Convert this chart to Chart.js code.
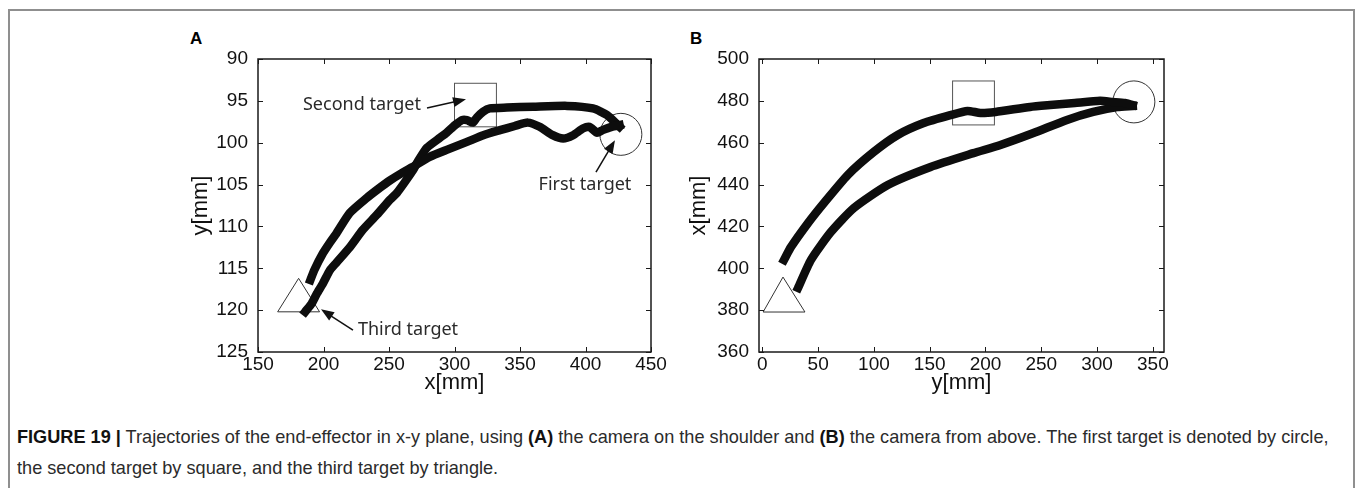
<!DOCTYPE html>
<html>
<head>
<meta charset="utf-8">
<script src="https://cdn.jsdelivr.net/npm/chart.js@4.4.0/dist/chart.umd.min.js"></script>
<style>
  html, body { margin: 0; padding: 0; background: #fff; width: 1358px; height: 488px; overflow: hidden; }
  #box { position: absolute; left: 8px; top: 9px; width: 1347px; height: 500px; border: 2px solid #8f8f8f; box-sizing: border-box; }
  canvas { position: absolute; }
  .panel { position: absolute; font: bold 17px "Liberation Sans", Arial, sans-serif; color: #000; }
  #caption { position: absolute; left: 17px; top: 421px; font: 19px "Liberation Sans Narrow", "Arial Narrow", "Liberation Sans", sans-serif;
             color: #2b2b2b; line-height: 31px; white-space: nowrap; transform: scaleX(0.955); transform-origin: 0 0; }
  #caption b { color: #111; }
</style>
</head>
<body>
<div id="box"></div>
<div class="panel" style="left:190px;top:29px">A</div>
<div class="panel" style="left:690px;top:29px">B</div>
<canvas id="chartA" width="530" height="380" style="left:150px;top:20px"></canvas>
<canvas id="chartB" width="540" height="380" style="left:680px;top:20px"></canvas>
<div id="caption"><b>FIGURE 19 |</b> Trajectories of the end-effector in x-y plane, using <b>(A)</b> the camera on the shoulder and <b>(B)</b> the camera from above. The first target is denoted by circle,<br>the second target by square, and the third target by triangle.</div>

<script>
// ---- panel A: camera on the shoulder ----
const xTicksA = [150, 200, 250, 300, 350, 400, 450];
const yTicksA = [90, 95, 100, 105, 110, 115, 120, 125];

// first target -> going out along the lower curve
const pathA1x = [190, 193, 199.6, 205, 210, 220, 233, 242, 250.8, 260, 268, 281, 295, 309.5, 322, 334.7, 346, 356, 365, 375, 383, 390.5, 398, 403, 408.8, 413, 420, 426];
const pathA1y = [116.4, 115.2, 113.2, 111.9, 110.8, 108.4, 106.6, 105.5, 104.5, 103.6, 102.9, 101.7, 100.8, 99.9, 99.1, 98.5, 98.0, 97.6, 98.1, 99.1, 99.5, 99.1, 98.3, 98.1, 98.8, 98.5, 98.1, 97.9];
// back through the second target to the third
const pathA2x = [426, 416.4, 405.7, 385.9, 360, 340, 327, 321.8, 317, 314, 309.5, 305.7, 300.4, 294, 289, 279, 271.4, 268.3, 263, 256, 250.8, 240.8, 230, 220, 210, 205, 199.6, 195, 191, 186];
const pathA2y = [98.1, 96.7, 95.9, 95.6, 95.7, 95.8, 95.9, 96.3, 97.0, 97.6, 97.3, 97.3, 97.9, 98.8, 99.4, 100.6, 102.4, 103.3, 104.5, 106, 106.8, 108.6, 110.4, 112.5, 114.3, 115.2, 116.8, 118, 119.2, 120.2];

// targets: square [x1, x2, y1, y2], circle [x, y], triangle [apexX, apexY, baseX1, baseX2, baseY]
const squareA = [300, 332, 92.9, 98.1];
const circleA = [427, 99];
const triangleA = [181, 116.2, 165, 197, 120.2];
const labelsA = ['Second target', 'First target', 'Third target'];
const labelPosA = [[274.4, 95.5, 'right'], [399.6, 105.05, 'center'], [226.3, 122.3, 'left']];
const arrowsA = [[279, 95.85, 308.8, 94.8], [408, 103.5, 422.5, 99.7], [222.5, 122.4, 198.1, 119.9]];

// ---- panel B: camera from above ----
const xTicksB = [0, 50, 100, 150, 200, 250, 300, 350];
const yTicksB = [360, 380, 400, 420, 440, 460, 480, 500];

const pathB1x = [19.4, 25.7, 40.9, 55.2, 76.6, 99.9, 121.3, 144.6, 168.7, 183.9, 195.5, 209, 240, 258, 280, 302.7, 314, 325, 332];
const pathB1y = [404, 410.2, 421.6, 431.2, 444.6, 455.6, 463.7, 469.4, 473.2, 475.2, 474.2, 474.7, 477.1, 478, 479, 480, 479.5, 479, 478];
const pathB2x = [332, 318, 296.5, 273, 243, 213.4, 189.2, 150.8, 112.4, 82, 61.4, 43.6, 32];
const pathB2y = [477.5, 477, 474.7, 470.9, 464.6, 458.9, 455, 448.4, 439.8, 428.8, 417.3, 404, 390.6];

const squareB = [170.5, 208, 489.5, 468.5];
const circleB = [333, 479.5];
const triangleB = [18.5, 395.8, 0.7, 38.2, 379.1];

const toPts = (xs, ys) => xs.map((x, i) => ({ x: x, y: ys[i] }));

function drawArrow(ctx, x1, y1, x2, y2) {
  const a = Math.atan2(y2 - y1, x2 - x1), L = 13, W = 5;
  ctx.beginPath();
  ctx.moveTo(x1, y1);
  ctx.lineTo(x2 - L * 0.8 * Math.cos(a), y2 - L * 0.8 * Math.sin(a));
  ctx.stroke();
  ctx.beginPath();
  ctx.moveTo(x2, y2);
  ctx.lineTo(x2 - L * Math.cos(a) + W * Math.sin(a), y2 - L * Math.sin(a) - W * Math.cos(a));
  ctx.lineTo(x2 - L * Math.cos(a) - W * Math.sin(a), y2 - L * Math.sin(a) + W * Math.cos(a));
  ctx.closePath();
  ctx.fill();
}

// targets under the trajectories, frame / ticks / notes on top
function targetsPlugin(sq, circ, tri, arrows, labels, labelPos) {
  return {
    id: 'targets',
    beforeDatasetsDraw(chart) {
      const { ctx, scales: { x, y } } = chart;
      ctx.save();
      ctx.lineWidth = 1;
      ctx.strokeStyle = '#555';
      const sx1 = x.getPixelForValue(sq[0]), sx2 = x.getPixelForValue(sq[1]);
      const sy1 = y.getPixelForValue(sq[2]), sy2 = y.getPixelForValue(sq[3]);
      ctx.strokeRect(sx1, Math.min(sy1, sy2), sx2 - sx1, Math.abs(sy2 - sy1));
      ctx.strokeStyle = '#333';
      ctx.beginPath();
      ctx.arc(x.getPixelForValue(circ[0]), y.getPixelForValue(circ[1]), 21, 0, Math.PI * 2);
      ctx.stroke();
      ctx.beginPath();
      ctx.moveTo(x.getPixelForValue(tri[0]), y.getPixelForValue(tri[1]));
      ctx.lineTo(x.getPixelForValue(tri[3]), y.getPixelForValue(tri[4]));
      ctx.lineTo(x.getPixelForValue(tri[2]), y.getPixelForValue(tri[4]));
      ctx.closePath();
      ctx.stroke();
      ctx.restore();
    },
    afterDraw(chart) {
      const { ctx, chartArea: a, scales: { x, y } } = chart;
      ctx.save();
      ctx.strokeStyle = '#1a1a1a';
      ctx.lineWidth = 1.5;
      ctx.strokeRect(a.left, a.top, a.right - a.left, a.bottom - a.top);
      ctx.lineWidth = 1;
      ctx.beginPath();
      x.ticks.forEach(t => {
        const p = Math.round(x.getPixelForValue(t.value)) + 0.5;
        ctx.moveTo(p, a.bottom); ctx.lineTo(p, a.bottom - 5);
        ctx.moveTo(p, a.top); ctx.lineTo(p, a.top + 5);
      });
      y.ticks.forEach(t => {
        const p = Math.round(y.getPixelForValue(t.value)) + 0.5;
        ctx.moveTo(a.left, p); ctx.lineTo(a.left + 5, p);
        ctx.moveTo(a.right, p); ctx.lineTo(a.right - 5, p);
      });
      ctx.stroke();
      ctx.strokeStyle = '#111';
      ctx.fillStyle = '#111';
      ctx.lineWidth = 1.5;
      arrows.forEach(ar => drawArrow(ctx, x.getPixelForValue(ar[0]), y.getPixelForValue(ar[1]),
                                          x.getPixelForValue(ar[2]), y.getPixelForValue(ar[3])));
      ctx.font = '18px "Noto Sans", "Open Sans", sans-serif';
      ctx.fillStyle = '#2a2a2a';
      ctx.textBaseline = 'middle';
      labels.forEach((txt, i) => {
        ctx.textAlign = labelPos[i][2];
        ctx.fillText(txt, x.getPixelForValue(labelPos[i][0]), y.getPixelForValue(labelPos[i][1]));
      });
      ctx.restore();
    }
  };
}

const tickFont = { family: '"Liberation Sans", Arial, sans-serif', size: 19 };
const titleFont = { family: '"Liberation Sans", Arial, sans-serif', size: 22 };

function makeChart(id, paths, xr, yr, xTicks, yTicks, xTitle, yTitle, yWidth, pad, yTitlePad, plugin) {
  return new Chart(document.getElementById(id), {
    type: 'scatter',
    data: {
      datasets: paths.map(p => ({
        data: p,
        showLine: true,
        borderColor: '#0d0d0d',
        borderWidth: 8.5,
        borderJoinStyle: 'round',
        borderCapStyle: 'square',
        pointRadius: 0,
        tension: 0.2
      }))
    },
    options: {
      responsive: false,
      animation: false,
      layout: { padding: pad },
      plugins: { legend: { display: false }, tooltip: { enabled: false } },
      scales: {
        x: {
          type: 'linear', min: xr[0], max: xr[1],
          afterBuildTicks: s => { s.ticks = xTicks.map(v => ({ value: v })); },
          afterFit: s => { s.height = 48; },
          grid: { display: false, drawTicks: false }, border: { display: false },
          ticks: { color: '#111', font: tickFont, padding: 1, maxRotation: 0, autoSkip: false },
          title: { display: true, text: xTitle, color: '#111', font: titleFont, padding: { bottom: 4 } }
        },
        y: {
          type: 'linear', min: yr[0], max: yr[1], reverse: yr[2],
          afterBuildTicks: s => { s.ticks = yTicks.map(v => ({ value: v })); },
          afterFit: s => { s.width = yWidth; },
          grid: { display: false, drawTicks: false }, border: { display: false },
          ticks: { color: '#111', font: tickFont, padding: 10, autoSkip: false },
          title: { display: true, text: yTitle, color: '#111', font: titleFont, padding: { top: yTitlePad } }
        }
      }
    },
    plugins: [plugin]
  });
}

makeChart('chartA', [toPts(pathA1x, pathA1y), toPts(pathA2x, pathA2y)],
  [150, 450], [90, 125, true], xTicksA, yTicksA, 'x[mm]', 'y[mm]',
  108, { top: 39, right: 29, left: 0, bottom: 0 }, 38,
  targetsPlugin(squareA, circleA, triangleA, arrowsA, labelsA, labelPosA));

makeChart('chartB', [toPts(pathB1x, pathB1y), toPts(pathB2x, pathB2y)],
  [-3, 360], [360, 500, false], xTicksB, yTicksB, 'y[mm]', 'x[mm]',
  79, { top: 39, right: 56, left: 0, bottom: 0 }, 6,
  targetsPlugin(squareB, circleB, triangleB, [], [], []));
</script>
</body>
</html>
